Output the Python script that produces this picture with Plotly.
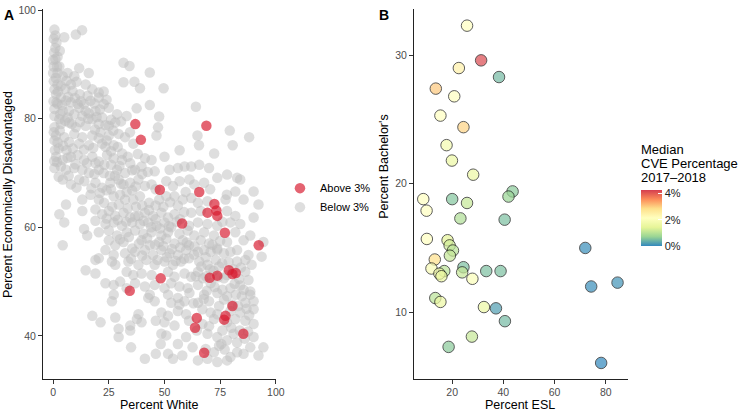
import plotly.graph_objects as go

W, H = 749, 411

# ---------------- Panel A data ----------------
above_white = [36.9, 39.4, 68.8, 47.9, 65.6, 72.4, 69.3, 73.3, 73.7, 57.9, 77.1, 92.3, 48.3,
               70.3, 73.7, 78.9, 80.5, 82.0, 34.4, 80.5, 64.5, 77.4, 76.8, 63.7, 85.4, 67.8]
above_econ = [79.0, 76.1, 78.7, 66.9, 66.5, 64.3, 62.7, 63.1, 62.1, 60.7, 59.0, 56.7, 50.6,
              50.7, 51.1, 52.1, 51.4, 51.6, 48.3, 45.5, 43.3, 43.7, 43.0, 41.5, 40.4, 36.9]

below_pts = [
    (0.6,96.4),(1,95.3),(0.3,94.7),(5,95),(10.2,95.5),(13,96.3),(1,93),(2,91.4),(0.5,92.2),(1.5,94),
    (0,90.8),(0.3,89.6),(2.8,89.6),(0,88.4),(2,88.4),(4.3,87.8),(6.5,88.4),(9.5,87.8),(11.7,89.3),(16,88.4),
    (0.3,86.9),(2,86.3),(0.6,85.4),(8,86.3),(8.7,85.1),(14.6,86.3),(17.6,85.4),(20.5,84.8),(22.7,85),(31.6,90.3),
    (34.3,89.7),(43.4,88.5),(31.6,86.7),(36.5,86.8),(39,85.6),(49.6,85.6),(1.2,87.5),(3.5,86),(5.5,85.5),(12,84.5),(1,91),
    (1.3,84.5),(3.5,83.9),(5.8,83.3),(2,82.7),(8,83),(11,82.7),(13.9,82.7),(16.8,83.3),(20.5,83.9),(22.7,82.7),
    (0.6,81.8),(4.3,81.4),(7.2,81.4),(11.7,82),(14.6,81.4),(19,81.4),(25,82),(0.6,80.5),(2.8,79.9),(6.5,80.2),
    (13.1,80.5),(17.6,79.9),(22,80.2),(28.7,80.8),(33,80.5),(37.5,81.9),(43.4,82.5),(47.6,80.4),(64.1,82.2),
    (9.5,80.8),(16,81),(26,79.8),(30.5,79.5),
    (0.6,78.4),(3.5,79),(7.2,79.3),(10.2,78.4),(14.6,78.7),(20.5,79),(25,78.7),(27.9,79.3),(1.3,76.9),(5,76.6),
    (9.5,77.2),(13.1,76.6),(17.6,76.9),(21.3,77.5),(25,76.9),(29.4,77.2),(32.3,76.6),(0.6,76),(7.2,75.7),(11.7,75.4),
    (16.1,75.1),(22,75.4),(23.5,74.8),(27.2,75.1),(36,75.4),(46.4,76.9),(47.1,78.4),(64.8,76.9),(65.5,75.1),
    (79.3,77.8),(80.6,75.1),(88,76.6),(3,77.8),(18.8,78),(24,76),(34.5,77.5),(2.5,74.5),(6,74.2),
    (1.3,73),(4.3,72.4),(8,73),(11,73.3),(13.9,72.4),(17.6,73),(20.5,72.1),(24.2,73.3),(27.2,72.7),(30.9,72.4),
    (34.6,71.8),(41.2,72.7),(44.2,72.4),(0.6,70.9),(3.5,71.2),(5.8,70.6),(9.5,70.9),(13.1,70.6),(16.1,70),(20.5,70.6),
    (22.7,70),(28.7,70.6),(32.3,70),(36.8,70.6),(39.7,71.2),(45.6,70.3),(52.3,70.6),(56,70.9),(59,71.2),(62,71.2),
    (65.6,71.5),(70,70.9),(72.3,73.6),(78.1,69.7),(82.6,69.1),(56.8,74.2),(50,73),(26,71.5),(38,73.5),(19,71.8),
    (4.3,68.8),(8,67.9),(11.7,68.8),(19,68.2),(22,67.3),(25.7,68.2),(29.4,68.8),(31.6,67.9),(34.6,68.2),(38.3,68.8),
    (41.2,67.6),(44.2,67.9),(50.8,68.5),(53.8,67.6),(56.8,68.5),(61.2,68.8),(63.4,67.9),(67.8,68.2),(73.7,69.1),(84,68.8),
    (90,66.6),(81.8,66.6),(78,66),(16.8,66),(13.1,65.1),(20.5,65.1),(22.9,64.5),(27.2,65.7),(30.1,66),(32.3,65.1),
    (36,65.1),(39,65.7),(43.1,64.5),(47.6,65.1),(50.8,65.7),(54.5,65.7),(58.2,65.1),(62,65.4),(65,64.5),(69.3,64.8),
    (77.4,65.1),(85.5,65.1),(5.8,64.2),(92.2,64.2),(26,67),(35.5,66.8),(46,67),(59.5,66.5),(70.5,67),
    (2.8,62.4),(5,60.9),(13.1,63),(19,63.3),(22,62.4),(25,63),(27.9,62.1),(31.6,62.7),(34.6,61.8),(38.3,62.1),
    (41.2,62.7),(44.9,62.1),(48.6,62.7),(51.6,61.8),(54.5,62.4),(62,62.7),(66.3,63),(78.1,63),(81.8,62.1),(90,61.8),
    (19,61.2),(23.5,60.6),(27.2,60.9),(30.9,60.3),(35.5,60.9),(39,60.6),(42.7,60.9),(46.4,60.3),(50,60.9),(53,60),
    (61,60.3),(65,60.9),(69.3,60.6),(73.7,60.3),(79.6,60.9),(84,60.6),(13.9,59.7),(20.5,59.1),(25,59.4),(28.7,58.5),
    (33.1,59.1),(36.8,59.4),(40.5,58.8),(44.2,59.1),(48.6,58.5),(51.6,59.1),(56.7,58.8),(60.4,59.4),(63.4,58.5),(67.8,59.1),
    (72.2,58.5),(81.8,59.1),(88.5,58.5),(15.3,58.5),(46,61.5),(57,61.5),(76,61),
    (4.3,56.7),(25,57.6),(27.9,56.7),(31.6,57.3),(35.5,56.1),(39.7,57.6),(43.4,56.7),(47.6,57.3),(50.8,57.9),(54.5,57),
    (58.2,57.6),(61,56.7),(66.3,57.6),(70,57),(73.7,56.1),(78.1,57.3),(85.5,57.6),(94.4,57.3),(23.5,55.8),(27.2,54.9),
    (32.3,55.2),(36.8,55.5),(41.2,55.8),(44.9,54.9),(48.6,55.8),(52.3,55.2),(56,54.9),(59.7,55.8),(65,55.5),(67.8,55.8),
    (70.7,55.5),(73.7,55.8),(76.7,55.2),(79.6,55.5),(82.6,55.8),(87.7,54.9),(93.6,54.6),(19,54),(20.5,54.3),(26.4,53.7),
    (33.8,53.7),(38.3,53.1),(41.9,54),(45.6,53.1),(50,53.7),(53.8,53.1),(57.4,53.7),(61,54.3),(65.6,53.7),(69.3,53.1),
    (73,54),(75.9,53.4),(82.6,53.7),(86.3,54),(89.1,53.1),(27.9,53.1),(71.5,56.8),(75,57.5),(68.5,54.5),
    (14.6,52.1),(19,51.5),(33,51.8),(36,51.2),(39.7,51.5),(44.2,51.2),(51.6,51.8),(54.5,50.9),(59,51.5),(62,50.9),
    (65,51.8),(67.2,50.6),(76.7,50.6),(86.3,51.8),(87.7,50.3),(23.5,49.7),(27.2,49.4),(30.1,50),(33,48.8),(36.8,49.7),
    (41.2,49.1),(45.6,49.4),(50,48.8),(53,49.7),(56.7,49.1),(60.4,48.8),(65,49.4),(70.7,49.7),(79.6,48.8),(85.5,48.5),
    (88.5,48.2),(27.2,47.6),(43.4,47.6),(51.6,47.6),(56,47),(61.2,47.9),(67.8,47.6),(73.7,47.9),(78.1,47.3),(84.7,47.3),
    (88.5,47.6),(72,52),(83.5,50.5),
    (26.4,46.4),(42.7,47),(45.6,46.4),(53,46.1),(56.7,45.8),(59,46.4),(65,46.1),(70,46.4),(76.7,46.7),(86.3,46.1),
    (90,46.4),(48.6,44.3),(51.6,43.7),(56,44.6),(59.7,44),(67,44.9),(70.7,44.3),(73.7,44),(79.6,44.6),(84,44.3),
    (90,44.9),(38.3,44),(37.6,43.1),(27.9,43.4),(21.3,42.5),(17.6,43.7),(34.6,41.9),(39.7,42.5),(46.1,42.8),(50,42.5),
    (54.5,41.9),(61,42.8),(67,42.2),(72.2,43.1),(78.1,42.5),(81.8,43.1),(86.3,42.8),(90,42.2),(29.4,41.3),
    (29.4,39.8),(34.6,41),(48.6,40.4),(50.8,40.1),(56,38.5),(59.7,39.8),(69.3,40.4),(73.7,39.8),(78.1,39.2),(81,40.4),
    (82.6,38.8),(90,39.8),(88.5,37.9),(94.4,37.9),(35,37.9),(48.3,38.5),(46.1,36.7),(51.6,36.7),(53.8,35.8),(58,36.4),
    (62.6,37.9),(68.5,37.6),(72.2,37),(73.7,35.2),(78.1,35.5),(79.6,36.1),(82.6,37),(85.5,36.7),(92.2,36.4),(41.2,35.8),
    (65,35.5),(69.3,35.8),(75.5,38.5),(86,39.5),
    # denser parts of the cloud
    (1.5,83),(4,82.5),(6.8,84),(9.8,83.8),(12.5,83.2),(15.5,84.2),(18.5,82.8),(21,81.7),(24,83.5),(3.2,80.8),
    (5.4,79.6),(8.4,79),(12,79.4),(15.8,80),(19.5,80.3),(23.5,78.8),(27,77.8),(2,75.6),(4.5,75),(8.8,74.5),
    (13.8,74.3),(18,74.6),(20.5,76.4),(26,74),(29,74.8),(31,73.6),(1.8,72),(6.5,72.8),(10,71.6),(15.2,71.8),
    (18.5,69.8),(23,71.5),(25.5,69.5),(29.8,71.3),(33.5,73),(35.5,70.5),(2.5,69.3),(7,69.5),(10.5,67.3),(14,68.5),
    (17.2,67.2),(21,66.3),(24,66.8),(27.8,69.5),(30.5,68),(33,66.5),(37,67.5),(40,69.8),(42.5,70.2),(0.3,77.5),
    (0.8,74.2),(0.5,72.2),(0.2,83.2),(2.2,85),(6,87),(10.5,86.8),(3,92.5),(1.8,89.6),
    (26.5,63.8),(29.5,64.2),(33.5,63.5),(37.2,63.8),(40,64),(43,63.2),(46,64),(49.5,63.8),(52.5,64.6),(56,64),
    (24,61.6),(29,61.4),(32.8,61),(36.8,62),(40.6,61.2),(44,60),(48,59.8),(52,60.2),(55.5,61),(58.8,62.8),
    (30,57.8),(34,58.2),(38.5,57),(42.2,58),(45.8,56.8),(49.5,56.5),(53.3,56),(57,56.3),(60,57.2),(63.5,56.5),
    (35,54.2),(40,54.8),(46.8,54),(51,54.5),(55,53.8),(58.8,54.2),(63.2,55),(66.5,52.8),(70.5,52.3),(74.5,52.8),
    (78.8,53.6),(81,52.3),(84.3,52.6),(64,51),(68.7,51),(74,50.8),(78,51.2),(81.5,49.6),(84,49.3),(69,48.3),
    (72.5,49),(76,48.5),(82,47.6),(86.8,45),(63,46),(67.6,46.8),(74.5,45.5),(80.5,45.8),(83,45.5),(88,43.8),
    (64.5,41),(70,41.8),(76,41),(80,41.5),(83.8,41),(87.5,40.8),(77,37.5),(74.5,38.2),
]
below_white = [p[0] for p in below_pts]
below_econ = [p[1] for p in below_pts]

# ---------------- Panel B data ----------------
esl = [25.8, 31.3, 22.6, 38.3, 13.6, 20.8, 15.4, 24.4, 17.8, 19.9, 28.2, 8.7, 10.0, 20.0, 25.8,
       43.6, 42.0, 23.2, 40.5, 10.1, 18.2, 19.0, 20.3, 19.1, 13.2, 72.0, 11.9, 16.9, 15.0, 15.8,
       24.4, 23.9, 33.3, 38.9, 27.9, 74.3, 84.6, 13.4, 15.4, 32.4, 37.1, 40.6, 27.7, 18.6, 78.2]
bachelors = [32.3, 29.6, 29.0, 28.3, 27.4, 26.8, 25.3, 24.4, 23.0, 21.8, 20.7, 18.8, 17.9, 18.8, 18.5,
             19.4, 19.0, 17.3, 17.2, 15.7, 15.6, 15.2, 14.8, 14.4, 14.1, 15.0, 13.4, 13.2, 13.0, 12.8,
             13.5, 13.1, 13.2, 13.2, 12.6, 12.0, 12.3, 11.1, 10.8, 10.4, 10.3, 9.3, 8.1, 7.3, 6.05]
cve = [2.1, 4.1, 2.4, 0.45, 3.0, 2.1, 2.1, 2.9, 1.8, 1.6, 1.6, 2.1, 2.1, 0.55, 1.1,
       0.6, 0.7, 0.9, 0.5, 2.1, 1.4, 1.2, 1.0, 1.1, 2.8, 0.05, 1.9, 1.0, 1.7, 1.5,
       0.5, 1.1, 0.5, 0.5, 2.0, 0.05, 0.1, 1.0, 1.6, 1.6, 0.2, 0.45, 1.1, 0.6, 0.0]

a_xticks = [0, 25, 50, 75, 100]
a_yticks = [40, 60, 80, 100]
b_xticks = [20, 40, 60, 80]
b_yticks = [10, 20, 30]
cbar_ticks = [0, 2, 4]
cbar_labels = ["0%", "2%", "4%"]

spectral_rev = [[0, "#3288BD"], [1/6, "#99D594"], [2/6, "#E6F598"], [3/6, "#FFFFBF"],
                [4/6, "#FEE08B"], [5/6, "#FC8D59"], [1, "#D53E4F"]]

FONT = "Liberation Sans, Arial, Helvetica, sans-serif"

def px_x(p):
    return p / W

def px_y(p):
    return 1 - p / H

fig = go.Figure()

fig.add_trace(go.Scatter(
    x=below_white, y=below_econ, mode="markers", name="Below 3%",
    marker=dict(size=10.5, color="rgba(190,190,190,0.5)", line=dict(width=0)),
    xaxis="x", yaxis="y", legendrank=2, hoverinfo="x+y"))
fig.add_trace(go.Scatter(
    x=above_white, y=above_econ, mode="markers", name="Above 3%",
    marker=dict(size=10.5, color="rgba(215,25,45,0.68)", line=dict(width=0)),
    xaxis="x", yaxis="y", legendrank=1, hoverinfo="x+y"))

fig.add_trace(go.Scatter(
    x=esl, y=bachelors, mode="markers", showlegend=False,
    marker=dict(size=11.5, color=cve, colorscale=spectral_rev, cmin=0, cmax=4.2, opacity=0.7,
                line=dict(color="black", width=0.9),
                colorbar=dict(x=px_x(648), xanchor="left", xpad=0, ypad=0,
                              y=px_y(216), yanchor="middle", lenmode="pixels", len=56,
                              thickness=21, outlinewidth=0,
                              tickvals=cbar_ticks, ticktext=cbar_labels,
                              ticks="inside", tickcolor="white", ticklen=4,
                              tickfont=dict(size=11, color="#222", family=FONT))),
    xaxis="x2", yaxis="y2"))

axis_common = dict(showline=True, linecolor="#222", linewidth=1, ticks="outside", ticklen=3.5,
                   tickcolor="#333", tickwidth=1, showgrid=False, zeroline=False,
                   ticklabeloverflow="allow",
                   tickfont=dict(size=10.5, color="#4D4D4D", family=FONT))

ydom = [1 - 379 / H, 1 - 4 / H]
fig.update_layout(
    width=W, height=H, autosize=False,
    margin=dict(l=0, r=0, t=0, b=0),
    paper_bgcolor="white", plot_bgcolor="white",
    font=dict(family=FONT, color="black"),
    xaxis=dict(domain=[43 / W, 279.3 / W], range=[-4.75, 100.2], tickvals=a_xticks, anchor="y", **axis_common),
    yaxis=dict(domain=ydom, range=[32.0, 100.2], tickvals=a_yticks, anchor="x", **axis_common),
    xaxis2=dict(domain=[418 / W, 634.3 / W], range=[4.9, 88.5], tickvals=b_xticks, anchor="y2", **axis_common),
    yaxis2=dict(domain=ydom, range=[4.77, 33.6], tickvals=b_yticks, anchor="x2", **axis_common),
    legend=dict(x=px_x(283), xanchor="left", y=px_y(195), yanchor="middle",
                font=dict(size=11, color="black", family=FONT), bgcolor="rgba(0,0,0,0)",
                itemsizing="trace"),
)

ann = []
def add_text(text, x, y, size=13, angle=0, xanchor="center", bold=False):
    ann.append(dict(text=f"<b>{text}</b>" if bold else text, x=px_x(x), y=px_y(y),
                    xref="paper", yref="paper", showarrow=False, textangle=angle,
                    xanchor=xanchor, yanchor="middle", borderpad=0,
                    font=dict(size=size, color="black", family=FONT)))

add_text("Percent White", 161, 404.5, size=12.5)
add_text("Percent ESL", 526, 404.5, size=12.5)
add_text("Percent Economically Disadvantaged", 8, 191.5, size=12.5, angle=-90)
add_text("Percent Bachelor's", 388, 163, size=12.5, angle=-90)
add_text("A", 3, 10, size=14, xanchor="left", bold=True)
add_text("B", 382, 10, size=14, xanchor="left", bold=True)
add_text("Median", 647, 146, xanchor="left")
add_text("CVE Percentage", 647, 160.5, xanchor="left")
add_text("2017\u20132018", 647, 175, xanchor="left")
fig.update_layout(annotations=ann)

fig.write_html("out.html", config={"displayModeBar": False},
               post_script="document.body.style.margin='0';document.body.style.overflow='hidden';")
